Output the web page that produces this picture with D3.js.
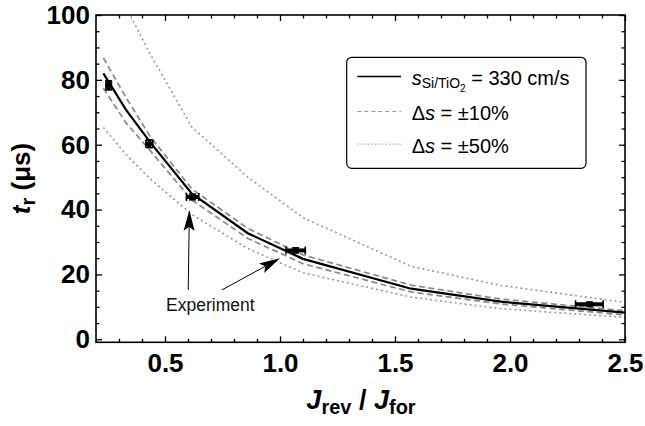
<!DOCTYPE html>
<html>
<head>
<meta charset="utf-8">
<script src="https://cdn.jsdelivr.net/npm/d3@7"></script>
<style>
body { margin: 0; background: #fff; }
text { font-family: "Liberation Sans", Arial, Helvetica, sans-serif; }
</style>
</head>
<body>
<svg id="chart"></svg>
<script>
// simulated transit times
var simJ      = [0.232, 0.33, 0.435, 0.616, 0.86, 1.1, 1.57, 1.96, 2.5];
var tModel    = [82.0, 70.8, 60.8, 45.0, 32.7, 24.8, 15.6, 11.6, 8.2];
var tUpper10  = [86.8, 74.6, 62.6, 46.4, 34.2, 26.0, 16.7, 12.4, 8.8];
var tLower10  = [77.4, 66.8, 58.2, 43.0, 31.1, 23.3, 14.6, 10.9, 7.5];
var tUpper50  = [116.0, 102.5, 88.0, 65.5, 50.0, 37.5, 22.5, 16.6, 11.4];
var tLower50  = [65.3, 57.0, 49.5, 38.5, 28.0, 20.5, 13.0, 9.4, 6.8];

// experiment points with error bars
var expJ    = [0.255, 0.432, 0.62, 1.068, 2.345];
var expT    = [78.3, 60.3, 43.9, 27.4, 10.8];
var expJErr = [0.012, 0.015, 0.027, 0.042, 0.06];
var expTErr = [1.4, 1.2, 0.9, 0.8, 0.7];

var xMajor = [0.5, 1.0, 1.5, 2.0, 2.5];
var xMinor = [0.3, 0.4, 0.6, 0.7, 0.8, 0.9, 1.1, 1.2, 1.3, 1.4, 1.6, 1.7, 1.8, 1.9, 2.1, 2.2, 2.3, 2.4];
var yMajor = [0, 20, 40, 60, 80, 100];
var yMinor = [5, 10, 15, 25, 30, 35, 45, 50, 55, 65, 70, 75, 85, 90, 95];

// "Experiment" annotation
var arrowTails = [[0.601, 15.2], [0.747, 15.2]];
var arrowTips  = [[0.606, 39.9], [1.0, 25.0]];
var noteAt = [0.697, 8.6];

var height = 426;
var width = 645;
var margin = {top: 15, right: 20, bottom: 83.7, left: 96};
var w = width - margin.left - margin.right;
var h = height - margin.top - margin.bottom;

var svg = d3.select('#chart')
    .attr('width', width)
    .attr('height', height);

var g = svg.append('g')
    .attr('transform', 'translate(' + margin.left + ',' + margin.top + ')');

var x = d3.scaleLinear().domain([0.2, 2.5]).range([0, w]);
var y = d3.scaleLinear().domain([-0.93, 100]).range([h, 0]);

g.append('clipPath').attr('id', 'plotclip')
    .append('rect').attr('width', w).attr('height', h);

var plot = g.append('g').attr('clip-path', 'url(#plotclip)');

var line = d3.line()
    .x(function(d) { return x(d[0]); })
    .y(function(d) { return y(d[1]); });

function pairs(vals) {
    return simJ.map(function(j, i) { return [j, vals[i]]; });
}

var curves = [
    {vals: tUpper50, stroke: '#999', width: 1.6, dash: '2,3'},
    {vals: tLower50, stroke: '#999', width: 1.6, dash: '2,3'},
    {vals: tUpper10, stroke: '#888', width: 1.7, dash: '6,3.5'},
    {vals: tLower10, stroke: '#888', width: 1.7, dash: '6,3.5'},
    {vals: tModel,   stroke: '#000', width: 2.2, dash: null}
];

plot.selectAll('path.curve')
    .data(curves)
    .enter().append('path')
    .attr('class', 'curve')
    .attr('d', function(d) { return line(pairs(d.vals)); })
    .attr('fill', 'none')
    .attr('stroke', function(d) { return d.stroke; })
    .attr('stroke-width', function(d) { return d.width; })
    .attr('stroke-dasharray', function(d) { return d.dash; });

// error bars: thick bars with end caps
var pts = g.append('g').attr('class', 'points')
    .selectAll('g')
    .data(expJ.map(function(j, i) { return {j: j, t: expT[i], je: expJErr[i], te: expTErr[i]}; }))
    .enter().append('g')
    .attr('stroke', '#000')
    .attr('stroke-width', 4);

pts.append('line')
    .attr('x1', function(d) { return x(d.j - d.je); })
    .attr('x2', function(d) { return x(d.j + d.je); })
    .attr('y1', function(d) { return y(d.t); })
    .attr('y2', function(d) { return y(d.t); });
pts.append('line')
    .attr('x1', function(d) { return x(d.j); })
    .attr('x2', function(d) { return x(d.j); })
    .attr('y1', function(d) { return y(d.t - d.te); })
    .attr('y2', function(d) { return y(d.t + d.te); });
[-1, 1].forEach(function(s) {
    pts.append('line')
        .attr('x1', function(d) { return x(d.j + s * d.je); })
        .attr('x2', function(d) { return x(d.j + s * d.je); })
        .attr('y1', function(d) { return y(d.t) - 4; })
        .attr('y2', function(d) { return y(d.t) + 4; })
        .attr('stroke-width', 1.6);
    pts.append('line')
        .attr('x1', function(d) { return x(d.j) - 3.5; })
        .attr('x2', function(d) { return x(d.j) + 3.5; })
        .attr('y1', function(d) { return y(d.t + s * d.te); })
        .attr('y2', function(d) { return y(d.t + s * d.te); })
        .attr('stroke-width', 1.6);
});

// annotation arrows
var ann = g.append('g').attr('class', 'annotation');
arrowTails.forEach(function(tail, i) {
    var x0 = x(tail[0]), y0 = y(tail[1]);
    var x1 = x(arrowTips[i][0]), y1 = y(arrowTips[i][1]);
    var len = Math.sqrt((x1 - x0) * (x1 - x0) + (y1 - y0) * (y1 - y0));
    var ux = (x1 - x0) / len, uy = (y1 - y0) / len;
    var hl = 21, hw = 5.5;
    var bx = x1 - ux * hl, by = y1 - uy * hl;
    ann.append('line')
        .attr('x1', x0).attr('y1', y0)
        .attr('x2', bx + ux * 4).attr('y2', by + uy * 4)
        .attr('stroke', '#000').attr('stroke-width', 1);
    ann.append('path')
        .attr('d', 'M' + x1 + ',' + y1 +
            'L' + (bx - uy * hw) + ',' + (by + ux * hw) +
            'L' + (x1 - ux * hl * 0.8) + ',' + (y1 - uy * hl * 0.8) +
            'L' + (bx + uy * hw) + ',' + (by - ux * hw) + 'Z')
        .attr('fill', '#000');
});
ann.append('text')
    .attr('x', x(noteAt[0]))
    .attr('y', y(noteAt[1]))
    .attr('text-anchor', 'middle')
    .attr('font-size', '17.5px')
    .attr('fill', '#111')
    .text('Experiment');

// frame and ticks
g.append('rect')
    .attr('width', w).attr('height', h)
    .attr('fill', 'none').attr('stroke', '#000').attr('stroke-width', 1.6);

function ticks(axis, tr, vals, size, labels) {
    var a = g.append('g').attr('transform', tr)
        .call(axis.tickValues(vals).tickSize(-size)
            .tickPadding(labels ? (axis === axL ? 6 : 11) : 0)
            .tickFormat(labels ? d3.format('.1f') : ''));
    a.select('.domain').remove();
    a.selectAll('.tick line').attr('stroke-width', 1.3);
    return a;
}
var axB = d3.axisBottom(x), axT = d3.axisTop(x), axL = d3.axisLeft(y), axR = d3.axisRight(y);

var xa = ticks(axB, 'translate(0,' + h + ')', xMajor, 6, true);
ticks(d3.axisBottom(x), 'translate(0,' + h + ')', xMinor, 3.5, false);
ticks(axT, null, xMajor, 6, false);
ticks(d3.axisTop(x), null, xMinor, 3.5, false);
var ya = ticks(axL, null, yMajor, 6, true);
ya.selectAll('.tick text').text(function(d) { return d3.format('d')(d); });
ticks(d3.axisLeft(y), null, yMinor, 3.5, false);
ticks(axR, 'translate(' + w + ',0)', yMajor, 6, false);
ticks(d3.axisRight(y), 'translate(' + w + ',0)', yMinor, 3.5, false);

g.selectAll('.tick text')
    .attr('font-family', '"Liberation Sans", Arial, sans-serif')
    .attr('font-size', '26px')
    .attr('font-weight', 'bold')
    .attr('fill', '#000');

// axis titles
var xt = svg.append('text')
    .attr('x', 361).attr('y', 409)
    .attr('text-anchor', 'middle')
    .attr('font-weight', 'bold')
    .attr('font-size', '27px');
xt.append('tspan').attr('font-style', 'italic').text('J');
xt.append('tspan').attr('font-size', '20px').attr('dy', 5).text('rev');
xt.append('tspan').attr('dy', -5).text(' / ');
xt.append('tspan').attr('font-style', 'italic').text('J');
xt.append('tspan').attr('font-size', '20px').attr('dy', 5).text('for');

var yt = svg.append('text')
    .attr('transform', 'translate(30,178.5) rotate(-90)')
    .attr('text-anchor', 'middle')
    .attr('font-weight', 'bold')
    .attr('font-size', '26px');
yt.append('tspan').attr('font-style', 'italic').text('t');
yt.append('tspan').attr('font-size', '20px').attr('dy', 5).text('r');
yt.append('tspan').attr('dy', -5).text(' (\u03bcs)');

// legend
var legend = svg.append('g').attr('class', 'legend');
legend.append('rect')
    .attr('x', 346.7).attr('y', 57.3)
    .attr('width', 239.3).attr('height', 111)
    .attr('rx', 5).attr('ry', 5)
    .attr('fill', '#fff').attr('stroke', '#000').attr('stroke-width', 1.2);

var legendRows = [
    {y: 85, stroke: '#000', width: 1.6, dash: null},
    {y: 120, stroke: '#999', width: 1.2, dash: '4,3'},
    {y: 152.7, stroke: '#aaa', width: 1.2, dash: '1.5,2'}
];
legend.selectAll('line')
    .data(legendRows)
    .enter().append('line')
    .attr('x1', 357.3).attr('x2', 401)
    .attr('y1', function(d) { return d.y - 8.5; })
    .attr('y2', function(d) { return d.y - 8.5; })
    .attr('stroke', function(d) { return d.stroke; })
    .attr('stroke-width', function(d) { return d.width; })
    .attr('stroke-dasharray', function(d) { return d.dash; });

var l1 = legend.append('text').attr('x', 411.7).attr('y', legendRows[0].y).attr('font-size', '20px');
l1.append('tspan').attr('font-style', 'italic').text('s');
l1.append('tspan').attr('font-size', '14px').attr('dy', 3.3).text('Si/TiO');
l1.append('tspan').attr('font-size', '10px').attr('dy', 4).text('2');
l1.append('tspan').attr('dy', -7.3).text(' = 330 cm/s');

[['10', legendRows[1].y], ['50', legendRows[2].y]].forEach(function(r) {
    var t = legend.append('text').attr('x', 411.7).attr('y', r[1]).attr('font-size', '20px');
    t.append('tspan').text('\u0394');
    t.append('tspan').attr('font-style', 'italic').text('s');
    t.append('tspan').text(' = \u00b1' + r[0] + '%');
});
</script>
</body>
</html>
